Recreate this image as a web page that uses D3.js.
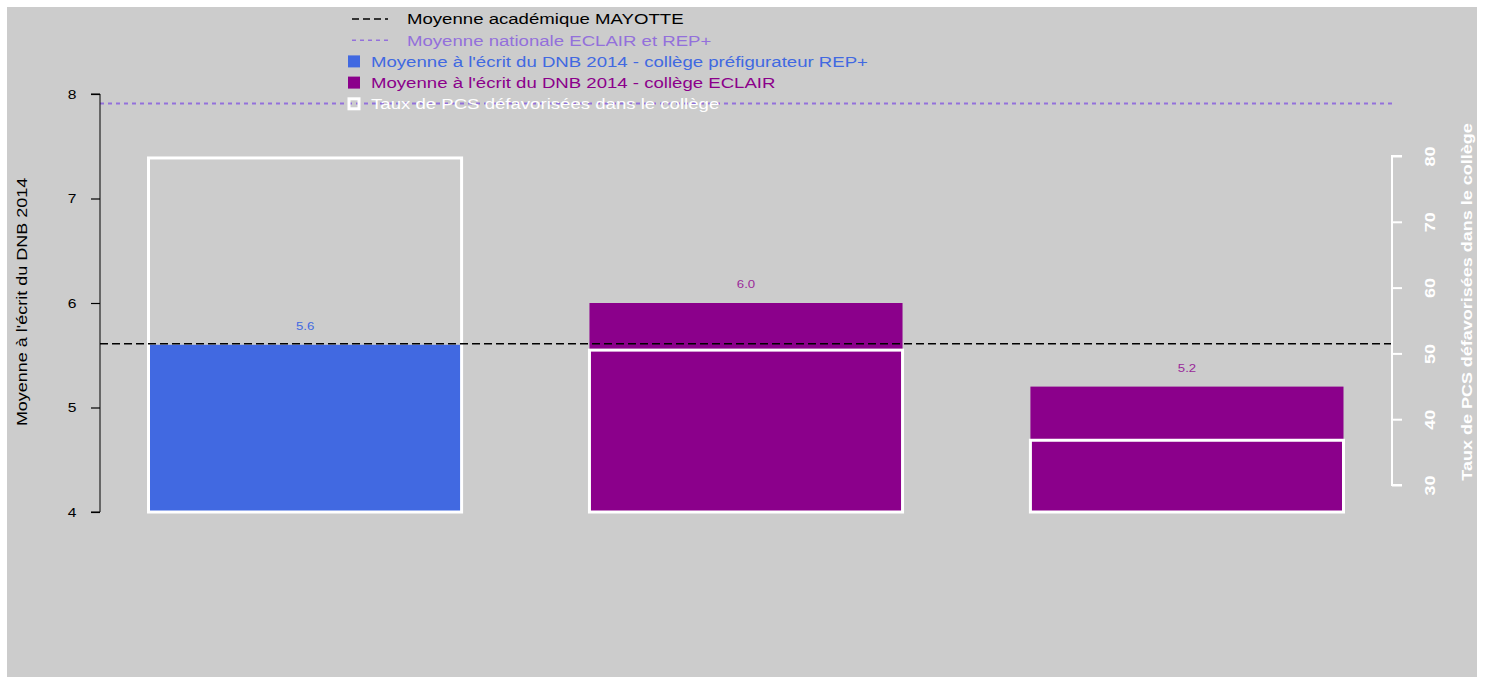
<!DOCTYPE html>
<html>
<head>
<meta charset="utf-8">
<title>DNB 2014 Mayotte</title>
<style>
  body { margin: 0; background: #ffffff; }
  svg { display: block; font-family: "Liberation Sans", Arial, sans-serif; }
</style>
</head>
<body>
<svg></svg>
<script src="https://d3js.org/d3.v7.min.js"></script>
<script>
// data
var colleges = ["Collège A", "Collège B", "Collège C"];
var notes = [5.6, 6.0, 5.2];             // moyenne à l'écrit du DNB 2014
var types = ["REP+", "ECLAIR", "ECLAIR"];
var tauxPCS = [79.7, 50.5, 36.8];        // taux de PCS défavorisées (%)
var moyAcad = 5.61;                      // moyenne académique MAYOTTE
var moyNat = 7.91;                       // moyenne nationale ECLAIR et REP+
var leftTicks = [4, 5, 6, 7, 8];
var rightTicks = [30, 40, 50, 60, 70, 80];

var blue = "#4169E1", purple = "#8B008B", mpurple = "#9370DB";
var stretch = 1.2;   // the original font is wider than Liberation Sans

var svg = d3.select("svg").attr("width", 1485).attr("height", 677);

// grey background panel
svg.append("rect").attr("x", 7).attr("y", 7).attr("width", 1470).attr("height", 670)
    .attr("fill", "#cccccc");

var x = d3.scaleBand().domain(colleges).range([100, 1392])
    .paddingInner(0.29).paddingOuter(0.11);
var y = d3.scaleLinear().domain([4, 8]).range([512, 94]);
var yR = d3.scaleLinear().domain([30, 80]).range([485, 156]);

// bars for the mean score
svg.selectAll("rect.note").data(colleges).enter().append("rect")
    .attr("class", "note")
    .attr("x", function(d) { return x(d); })
    .attr("width", x.bandwidth())
    .attr("y", function(d, i) { return y(notes[i]); })
    .attr("height", function(d, i) { return y(4) - y(notes[i]); })
    .attr("fill", function(d, i) { return types[i] == "REP+" ? blue : purple; });

// value labels
svg.selectAll("text.val").data(colleges).enter().append("text")
    .attr("class", "val")
    .attr("transform", function(d, i) {
      return "translate(" + (x(d) + x.bandwidth() / 2) + "," + (y(notes[i]) - 15) + ") scale(" + stretch + ",1)";
    })
    .attr("text-anchor", "middle")
    .attr("font-size", 11)
    .attr("fill", function(d, i) { return types[i] == "REP+" ? blue : "#9a2a9a"; })
    .text(function(d, i) { return notes[i].toFixed(1); });

// white outlined bars for the PCS rate (right axis)
svg.selectAll("rect.pcs").data(colleges).enter().append("rect")
    .attr("class", "pcs")
    .attr("x", function(d) { return x(d); })
    .attr("width", x.bandwidth())
    .attr("y", function(d, i) { return yR(tauxPCS[i]); })
    .attr("height", function(d, i) { return y(4) - yR(tauxPCS[i]); })
    .attr("fill", "none")
    .attr("stroke", "white")
    .attr("stroke-width", 3);

// reference lines
svg.append("line")
    .attr("x1", 100).attr("x2", 1392)
    .attr("y1", y(moyAcad)).attr("y2", y(moyAcad))
    .attr("stroke", "black").attr("stroke-width", 1.3)
    .attr("stroke-dasharray", "8,4");
svg.append("line")
    .attr("x1", 100).attr("x2", 1392)
    .attr("y1", y(moyNat)).attr("y2", y(moyNat))
    .attr("stroke", mpurple).attr("stroke-width", 2)
    .attr("stroke-dasharray", "4,4");

// left axis
var gL = svg.append("g").attr("transform", "translate(100,0)")
    .call(d3.axisLeft(y).tickValues(leftTicks).tickFormat(d3.format("d")).tickSize(9).tickPadding(0));
gL.select(".domain").attr("d", "M-9," + y(8) + "H0V" + y(4) + "H-9");
gL.selectAll(".tick line").attr("stroke-width", 1.2);
gL.selectAll("text").attr("font-size", 13).attr("fill", "black")
    .attr("font-family", "Liberation Sans, Arial, sans-serif")
    .attr("x", null).attr("text-anchor", "middle")
    .attr("transform", "translate(-28,0) scale(" + stretch + ",1)");

svg.append("text")
    .attr("transform", "translate(27,302) rotate(-90) scale(" + stretch + ",1)")
    .attr("text-anchor", "middle")
    .attr("font-size", 15)
    .text("Moyenne à l'écrit du DNB 2014");

// right axis (white)
var gR = svg.append("g").attr("transform", "translate(1392,0)")
    .call(d3.axisRight(yR).tickValues(rightTicks).tickSize(10).tickPadding(0));
gR.select(".domain").attr("stroke", "white").attr("stroke-width", 2)
    .attr("d", "M10," + yR(80) + "H0V" + yR(30) + "H10");
gR.selectAll("line").attr("stroke", "white").attr("stroke-width", 2);
gR.selectAll(".tick text")
    .attr("fill", "white").attr("font-weight", "bold").attr("font-size", 15)
    .attr("font-family", "Liberation Sans, Arial, sans-serif")
    .attr("text-anchor", "middle")
    .attr("x", 0).attr("y", 0).attr("dy", "0.35em")
    .attr("transform", "translate(38,0) rotate(-90) scale(" + stretch + ",1)");

svg.append("text")
    .attr("transform", "translate(1472,302) rotate(-90) scale(" + stretch + ",1)")
    .attr("text-anchor", "middle")
    .attr("font-size", 15).attr("font-weight", "bold")
    .attr("fill", "white")
    .text("Taux de PCS défavorisées dans le collège");

// legend
var legend = [
  { label: "Moyenne académique MAYOTTE", color: "black", kind: "dash" },
  { label: "Moyenne nationale ECLAIR et REP+", color: mpurple, kind: "dot" },
  { label: "Moyenne à l'écrit du DNB 2014 - collège préfigurateur REP+", color: blue, kind: "fill" },
  { label: "Moyenne à l'écrit du DNB 2014 - collège ECLAIR", color: purple, kind: "fill" },
  { label: "Taux de PCS défavorisées dans le collège", color: "white", kind: "box" }
];
var lg = svg.selectAll("g.leg").data(legend).enter().append("g")
    .attr("class", "leg")
    .attr("transform", function(d, i) { return "translate(0," + (19 + i * 21.2) + ")"; });
lg.each(function(d) {
  var g = d3.select(this);
  if (d.kind == "dash") {
    g.append("line").attr("x1", 352).attr("x2", 388).attr("y1", 0).attr("y2", 0)
      .attr("stroke", d.color).attr("stroke-width", 1.3).attr("stroke-dasharray", "7,4");
  } else if (d.kind == "dot") {
    g.append("line").attr("x1", 352).attr("x2", 388).attr("y1", 0).attr("y2", 0)
      .attr("stroke", d.color).attr("stroke-width", 1.5).attr("stroke-dasharray", "4,4");
  } else if (d.kind == "fill") {
    g.append("rect").attr("x", 348).attr("y", -6).attr("width", 12).attr("height", 12)
      .attr("fill", d.color);
  } else {
    g.append("rect").attr("x", 349).attr("y", -5).attr("width", 10).attr("height", 10)
      .attr("fill", "none").attr("stroke", d.color).attr("stroke-width", 3);
  }
  var tx = d.kind == "fill" || d.kind == "box" ? 371 : 407;
  g.append("text")
    .attr("transform", "translate(" + tx + ",0) scale(" + stretch + ",1)")
    .attr("dy", "0.35em")
    .attr("font-size", 15.5)
    .attr("fill", d.color)
    .text(d.label);
});
</script>
</body>
</html>
